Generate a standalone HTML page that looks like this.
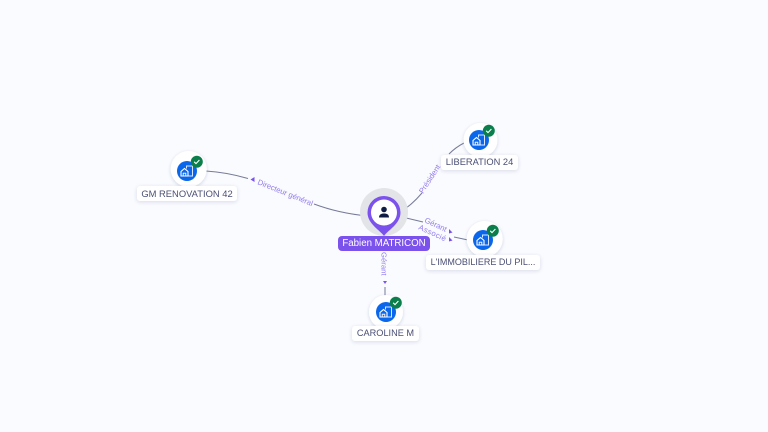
<!DOCTYPE html>
<html>
<head>
<meta charset="utf-8">
<style>
html,body{margin:0;padding:0;background:#fafbff;}
body{width:768px;height:432px;overflow:hidden;position:relative;}
svg{position:absolute;left:0;top:0;}
text{font-family:"Liberation Sans",sans-serif;}
.lab{position:absolute;height:15px;background:#fff;border-radius:3px;box-shadow:0 1px 4px rgba(40,50,110,.16);color:#4a4f75;font-family:"Liberation Sans",sans-serif;line-height:15px;text-align:center;white-space:nowrap;}
</style>
</head>
<body>
<svg width="768" height="432" viewBox="0 0 768 432">
  <defs>
    <filter id="s" x="-30%" y="-30%" width="160%" height="160%"><feDropShadow dx="0" dy="1" stdDeviation="1.5" flood-color="#28326e" flood-opacity=".2"/></filter>
    <g id="co">
      <circle r="10" fill="#0a66ea"/>
      <path d="M-6 5V0.500L-2.500 -2.500L1 0.500V5Z" fill="none" stroke="#fff" stroke-width="1.100"/>
      <path d="M-3.800 5V2.200H-1.200V5" fill="none" stroke="#fff" stroke-width="0.900"/>
      <path d="M-0.500 -2.500V-5H5.500V5H1.500" fill="none" stroke="#dce8ff" stroke-width="1"/>
      <circle cx="9.800" cy="-9.200" r="6" fill="#0a7f4c"/>
      <path d="M7.200 -9.200L9 -7.400L12.400 -11" fill="none" stroke="#fff" stroke-width="1.100"/>
    </g>
  </defs>

  <g fill="none" stroke="#777b98" stroke-width="1">
    <path d="M206 171C222 172 236 175 248 178.500"/>
    <path d="M314 204C330 210 346 214 368 216"/>
    <path d="M400 212C409 207 416 200 422 193"/>
    <path d="M449 154C454 149 458 146 464 143"/>
    <path d="M400 216.500L423 222"/>
    <path d="M454 237L468 240"/>
    <path d="M385 287V296"/>
  </g>

  <g fill="#7b52ec">
    <path d="M250.500 179.500L254.500 177V182Z"/>
    <path d="M452.500 232.500L449 229V233.500Z"/>
    <path d="M452.500 240.500L449 237V241.500Z"/>
    <path d="M385 284L383 281H387Z"/>
  </g>

  <g fill="#9179ee" font-size="7.700">
    <text transform="translate(257,184) rotate(22)">Directeur général</text>
    <text transform="translate(423,194) rotate(-57)">Président</text>
    <text transform="translate(424,222) rotate(25)">Gérant</text>
    <text transform="translate(418,229) rotate(25)" letter-spacing=".4">Associé</text>
    <text transform="translate(381.500,252) rotate(90)">Gérant</text>
  </g>

  <circle cx="384" cy="212" r="24" fill="#e3e4e8"/>
  <path d="M384 236C380 230 367.500 224 367.500 212.500A16.500 16.500 0 0 1 400.500 212.500C400.500 224 388 230 384 236Z" fill="#7b52ec"/>
  <circle cx="384" cy="212.500" r="13" fill="#fff"/>
  <circle cx="384" cy="209.500" r="2.800" fill="#0f1c45"/>
  <path d="M379 217.500C379 214.500 381 213.500 384 213.500C387 213.500 389 214.500 389 217.500Z" fill="#0f1c45"/>

  <circle cx="188.700" cy="169" r="18" fill="#fff" filter="url(#s)"/>
  <use href="#co" x="187" y="171"/>
  <circle cx="480.500" cy="140" r="17" fill="#fff" filter="url(#s)"/>
  <use href="#co" x="479" y="140"/>
  <circle cx="484.700" cy="239" r="18" fill="#fff" filter="url(#s)"/>
  <use href="#co" x="483" y="240"/>
  <circle cx="386" cy="312" r="17" fill="#fff" filter="url(#s)"/>
  <use href="#co" x="386" y="312"/>
</svg>

<div class="lab" style="left:338px;top:236px;width:92px;background:#7b52ec;color:#fff;box-shadow:none;font-size:9.700px;border-radius:4px;line-height:16px;">Fabien MATRICON</div>
<div class="lab" style="left:137px;top:186px;width:100px;font-size:9.400px;">GM RENOVATION 42</div>
<div class="lab" style="left:441px;top:155px;width:77px;font-size:9.300px;">LIBERATION 24</div>
<div class="lab" style="left:426px;top:255px;width:114px;font-size:9px;">L'IMMOBILIERE DU PIL...</div>
<div class="lab" style="left:352px;top:326px;width:67px;font-size:9.200px;">CAROLINE M</div>
</body>
</html>
